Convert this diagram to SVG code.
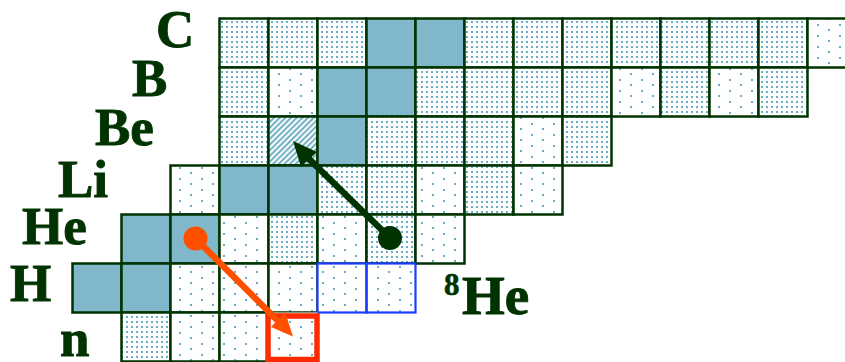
<svg xmlns="http://www.w3.org/2000/svg" width="845" height="362" viewBox="0 0 845 362">
<style>
.c{stroke:#003300;stroke-width:2.5}
.d{fill:url(#dense)}
.s{fill:url(#sparse)}
.f{fill:#80b7ca}
.h{fill:url(#hatch)}
.blue{fill:none;stroke:#1a3cff;stroke-width:2.2}
.red{fill:none;stroke:#ff2a00;stroke-width:5.5}
.lbl{font-family:"Liberation Serif","Times New Roman",serif;font-weight:bold;font-size:53px;fill:#003300;stroke:#003300;stroke-width:0.9}
</style>
<defs>
<pattern id="dense" width="5" height="5" patternUnits="userSpaceOnUse">
<rect width="5" height="5" fill="#fff"/>
<rect x="1" y="1" width="2" height="2" fill="#6aaec6"/>
</pattern>
<pattern id="sparse" width="22" height="11" patternUnits="userSpaceOnUse">
<rect width="22" height="11" fill="#fff"/>
<rect x="3" y="2" width="2" height="2" fill="#6aaec6"/>
<rect x="14" y="7" width="2" height="2" fill="#6aaec6"/>
</pattern>
<pattern id="hatch" width="4" height="4" patternUnits="userSpaceOnUse" patternTransform="rotate(45)">
<rect width="4" height="4" fill="#fff"/>
<rect width="2.1" height="4" fill="#78b2c6"/>
</pattern>
</defs>
<rect width="845" height="362" fill="#fff"/>

<g id="row-C">
<rect class="c d" x="219.5" y="18.5" width="49" height="49"/>
<rect class="c d" x="268.5" y="18.5" width="49" height="49"/>
<rect class="c d" x="317.5" y="18.5" width="49" height="49"/>
<rect class="c f" x="366.5" y="18.5" width="49" height="49"/>
<rect class="c f" x="415.5" y="18.5" width="49" height="49"/>
<rect class="c d" x="464.5" y="18.5" width="49" height="49"/>
<rect class="c d" x="513.5" y="18.5" width="49" height="49"/>
<rect class="c d" x="562.5" y="18.5" width="49" height="49"/>
<rect class="c d" x="611.5" y="18.5" width="49" height="49"/>
<rect class="c d" x="660.5" y="18.5" width="49" height="49"/>
<rect class="c d" x="709.5" y="18.5" width="49" height="49"/>
<rect class="c d" x="758.5" y="18.5" width="49" height="49"/>
<rect class="c s" x="807.5" y="18.5" width="49" height="49"/>
</g>
<g id="row-B">
<rect class="c d" x="219.5" y="67.5" width="49" height="49"/>
<rect class="c s" x="268.5" y="67.5" width="49" height="49"/>
<rect class="c f" x="317.5" y="67.5" width="49" height="49"/>
<rect class="c f" x="366.5" y="67.5" width="49" height="49"/>
<rect class="c d" x="415.5" y="67.5" width="49" height="49"/>
<rect class="c d" x="464.5" y="67.5" width="49" height="49"/>
<rect class="c d" x="513.5" y="67.5" width="49" height="49"/>
<rect class="c d" x="562.5" y="67.5" width="49" height="49"/>
<rect class="c s" x="611.5" y="67.5" width="49" height="49"/>
<rect class="c d" x="660.5" y="67.5" width="49" height="49"/>
<rect class="c s" x="709.5" y="67.5" width="49" height="49"/>
<rect class="c d" x="758.5" y="67.5" width="49" height="49"/>
</g>
<g id="row-Be">
<rect class="c d" x="219.5" y="116.5" width="49" height="49"/>
<rect class="c h" x="268.5" y="116.5" width="49" height="49"/>
<rect class="c f" x="317.5" y="116.5" width="49" height="49"/>
<rect class="c d" x="366.5" y="116.5" width="49" height="49"/>
<rect class="c d" x="415.5" y="116.5" width="49" height="49"/>
<rect class="c d" x="464.5" y="116.5" width="49" height="49"/>
<rect class="c s" x="513.5" y="116.5" width="49" height="49"/>
<rect class="c d" x="562.5" y="116.5" width="49" height="49"/>
</g>
<g id="row-Li">
<rect class="c s" x="170.5" y="165.5" width="49" height="49"/>
<rect class="c f" x="219.5" y="165.5" width="49" height="49"/>
<rect class="c f" x="268.5" y="165.5" width="49" height="49"/>
<rect class="c d" x="317.5" y="165.5" width="49" height="49"/>
<rect class="c d" x="366.5" y="165.5" width="49" height="49"/>
<rect class="c s" x="415.5" y="165.5" width="49" height="49"/>
<rect class="c d" x="464.5" y="165.5" width="49" height="49"/>
<rect class="c s" x="513.5" y="165.5" width="49" height="49"/>
</g>
<g id="row-He">
<rect class="c f" x="121.5" y="214.5" width="49" height="49"/>
<rect class="c f" x="170.5" y="214.5" width="49" height="49"/>
<rect class="c s" x="219.5" y="214.5" width="49" height="49"/>
<rect class="c d" x="268.5" y="214.5" width="49" height="49"/>
<rect class="c s" x="317.5" y="214.5" width="49" height="49"/>
<rect class="c d" x="366.5" y="214.5" width="49" height="49"/>
<rect class="c s" x="415.5" y="214.5" width="49" height="49"/>
</g>
<g id="row-H">
<rect class="c f" x="72.5" y="263.5" width="49" height="49"/>
<rect class="c f" x="121.5" y="263.5" width="49" height="49"/>
<rect class="c s" x="170.5" y="263.5" width="49" height="49"/>
<rect class="c s" x="219.5" y="263.5" width="49" height="49"/>
<rect class="c s" x="268.5" y="263.5" width="49" height="49"/>
<rect class="s" x="317.5" y="263.5" width="49" height="49"/>
<rect class="s" x="366.5" y="263.5" width="49" height="49"/>
<rect class="blue" x="317.5" y="263.5" width="49" height="49"/>
<rect class="blue" x="366.5" y="263.5" width="49" height="49"/>
</g>
<g id="row-n">
<rect class="c d" x="121.5" y="312.5" width="49" height="49"/>
<rect class="c s" x="170.5" y="312.5" width="49" height="49"/>
<rect class="c s" x="219.5" y="312.5" width="49" height="49"/>
<rect class="s" x="268.5" y="312.5" width="49" height="49"/>
<rect class="red" x="268" y="316" width="49" height="43.5"/>
</g>

<g id="labels">
<text class="lbl" x="156" y="47">C</text>
<text class="lbl" x="132" y="96">B</text>
<text class="lbl" x="95" y="145">Be</text>
<text class="lbl" x="58" y="197">Li</text>
<text class="lbl" x="22" y="244">He</text>
<text class="lbl" x="10" y="301">H</text>
<text class="lbl" x="60" y="356">n</text>
<text class="lbl" x="444" y="295" style="font-size:31px;stroke-width:0.6">8</text>
<text class="lbl" x="462" y="314" style="font-size:55px">He</text>
</g>

<g id="connectors">
<line x1="390" y1="238" x2="308" y2="158" stroke="#003300" stroke-width="6.5"/>
<polygon points="293,141 317,152 301,167" fill="#003300"/>
<circle cx="390" cy="238" r="12" fill="#003300"/>
<line x1="195.5" y1="238.5" x2="279" y2="322" stroke="#ff5000" stroke-width="6.5"/>
<polygon points="293,336.5 271,327 285,312" fill="#ff5000"/>
<circle cx="195.5" cy="238.5" r="12" fill="#ff5000"/>
</g>
</svg>
